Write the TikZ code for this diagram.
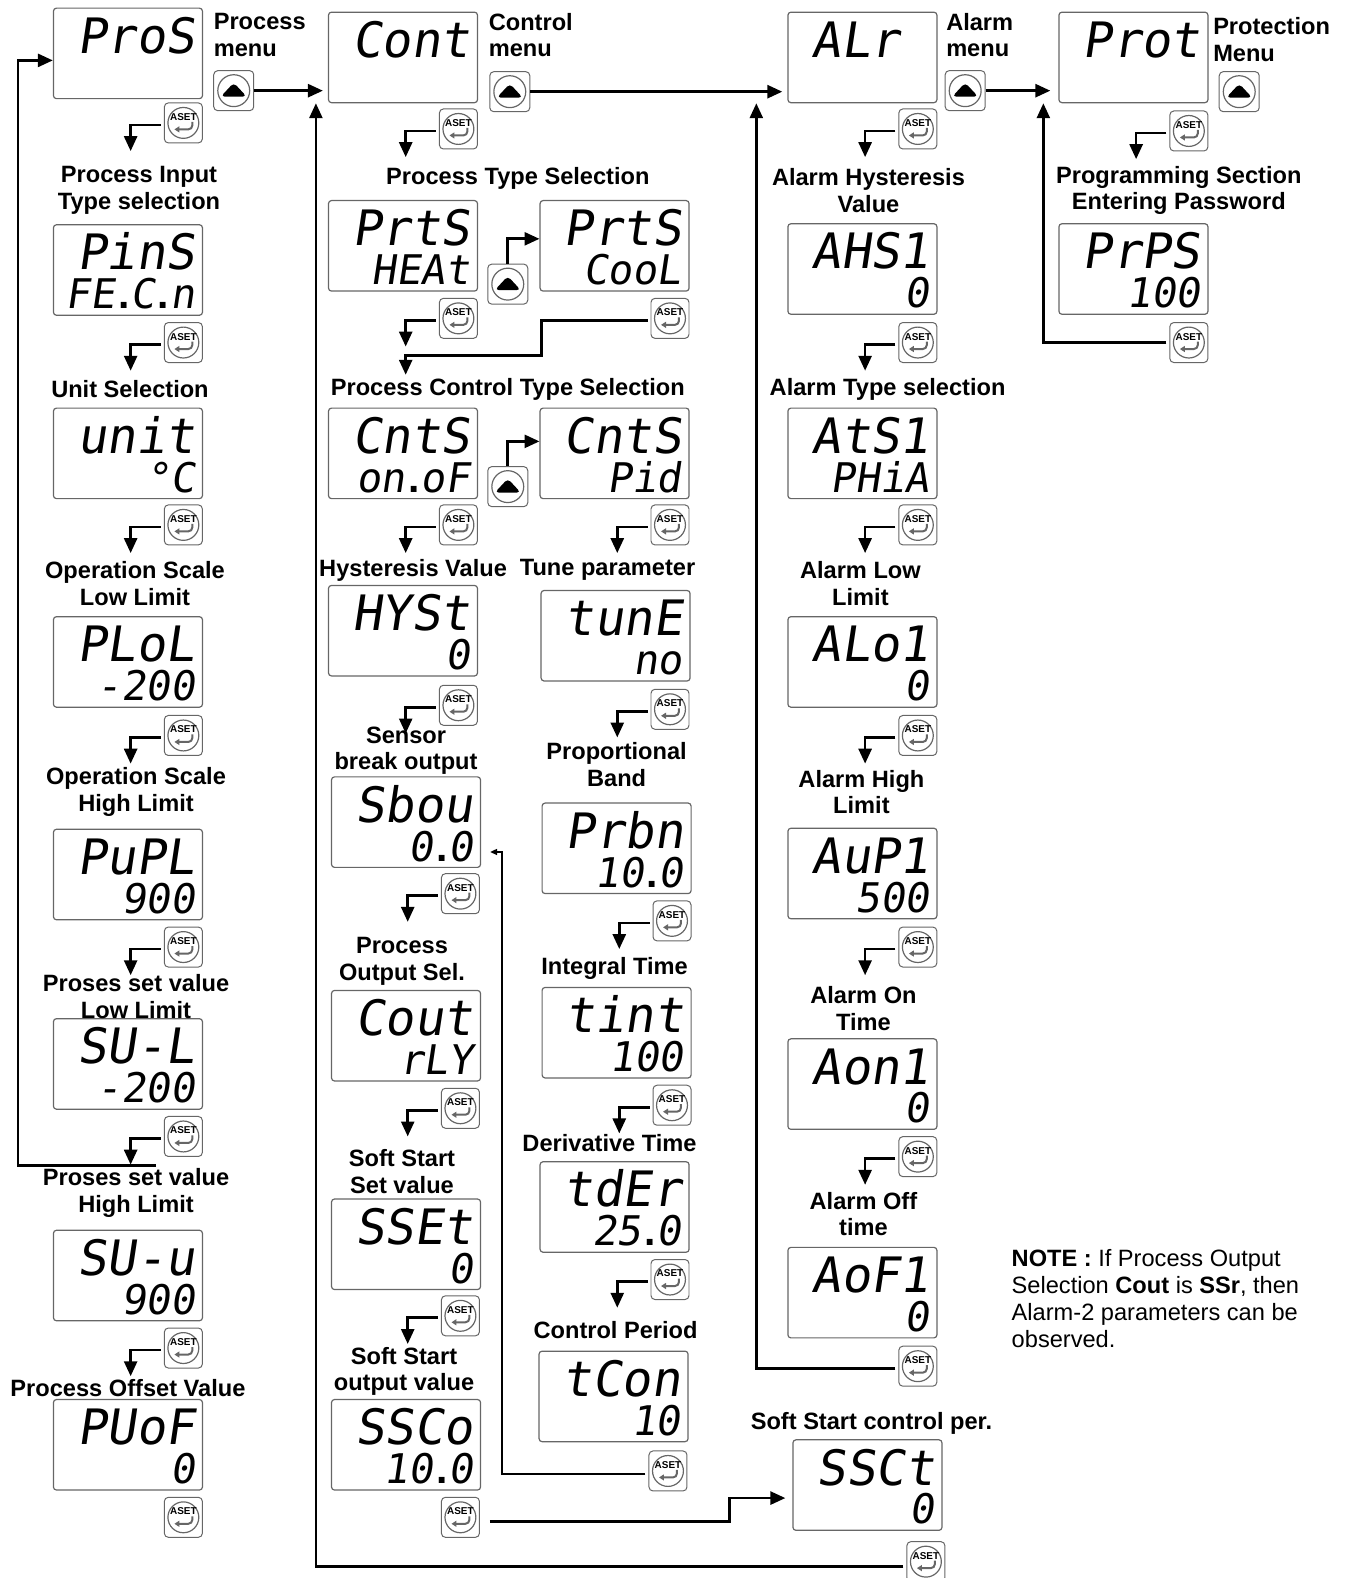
\documentclass[tikz,border=0pt]{standalone}
\usepackage{fontspec}
\setmainfont{Liberation Sans}
\newfontfamily\segfont[FakeSlant=0.15]{DejaVu Sans Mono}
\usetikzlibrary{arrows.meta,positioning}

% decimal point, narrow
\newcommand{\segpt}{{\rmfamily\bfseries\kern3pt.\kern1pt}}
% display: name, centre, upper line, lower line
\newcommand{\lcd}[4]{%
  \node [lcdbox] (#1) at (#2) {};
  \node [segtop] at ([xshift=-8pt,yshift=-46pt]#1.north east) {#3};
  \node [segbot] at ([xshift=-8pt,yshift=7pt]#1.south east) {#4};}

\begin{document}
\begin{tikzpicture}
      [x=1.0075bp, y=-1.0075bp,
       lcdbox/.style={draw=black!60, line width=1.2pt, rounded corners=3pt,
                      minimum width=149bp, minimum height=90.5bp, inner sep=0pt},
       segtop/.style={anchor=base east, inner sep=0pt, text depth=0pt,
                      font=\segfont\fontsize{49}{49}\selectfont},
       segbot/.style={anchor=base east, inner sep=0pt, text depth=0pt,
                      font=\segfont\fontsize{41}{41}\selectfont},
       asetkey/.style={draw=black!60, line width=1pt, rounded corners=4pt,
                       minimum width=38bp, minimum height=40bp, inner sep=0pt,
         path picture={
           \draw [line width=1.2pt] (path picture bounding box.center) circle (15.5pt);
           \node [font=\bfseries\fontsize{10}{10}\selectfont, inner sep=0pt]
             at ([yshift=6pt]path picture bounding box.center) {ASET};
           \draw [line width=2pt, -{Triangle[length=5pt,width=6pt]}]
             ([shift={(9pt,1pt)}]path picture bounding box.center) -- ++(0pt,-7.5pt) -- ++(-18pt,0pt);}},
       upkey/.style={draw=black!60, line width=1pt, rounded corners=4pt,
                     minimum width=40bp, minimum height=40bp, inner sep=0pt,
         path picture={
           \draw [line width=1.2pt] (path picture bounding box.center) circle (16pt);
           \fill ([shift={(-13pt,-6pt)}]path picture bounding box.center)
             -- ++(26pt,0pt) -- ++(-13pt,14pt) -- cycle;}},
       flow/.style={line width=2.7pt, -{Triangle[length=15pt,width=13pt]}},
       thinflow/.style={line width=1.5pt, -{Triangle[length=7pt,width=6pt]}},
       lbl/.style={font=\bfseries\fontsize{23.7}{26.7}\selectfont, align=center, inner sep=0pt}]
      \useasboundingbox (0,0) rectangle (1336.97,1566.25);

      % process menu
      \lcd{pros}{127,53}{ProS}{}
      \lcd{pins}{127,268}{PinS}{FE\segpt C\segpt n}
      \lcd{unit}{127,450}{unit}{°C}
      \lcd{plol}{127,657}{PLoL}{-200}
      \lcd{pupl}{127,868}{PuPL}{900}
      \lcd{sul}{127,1056}{SU-L}{-200}
      \lcd{suu}{127,1266}{SU-u}{900}
      \lcd{puof}{127,1434}{PUoF}{0}

      % control menu
      \lcd{cont}{400,57}{Cont}{}
      \lcd{prtsh}{400,244}{PrtS}{HEAt}
      \lcd{prtsc}{610,244}{PrtS}{CooL}
      \lcd{cntso}{400,450}{CntS}{on\segpt oF}
      \lcd{cntsp}{610,450}{CntS}{Pid}
      \lcd{hyst}{400,626}{HYSt}{0}
      \lcd{sbou}{403,816}{Sbou}{0\segpt 0}
      \lcd{cout}{403,1028}{Cout}{rLY}
      \lcd{sset}{403,1235}{SSEt}{0}
      \lcd{ssco}{403,1434}{SSCo}{10\segpt 0}
      \lcd{tune}{611,631}{tunE}{no}
      \lcd{prbn}{612,842}{Prbn}{10\segpt 0}
      \lcd{tint}{612,1025}{tint}{100}
      \lcd{tder}{610,1198}{tdEr}{25\segpt 0}
      \lcd{tcon}{609,1386}{tCon}{10}
      \lcd{ssct}{861,1474}{SSCt}{0}

      % alarm menu
      \lcd{alr}{856,57}{ALr\phantom{0}}{}
      \lcd{ahs}{856,267}{AHS1}{0}
      \lcd{ats}{856,450}{AtS1}{PHiA}
      \lcd{alo}{856,657}{ALo1}{0}
      \lcd{aup}{856,867}{AuP1}{500}
      \lcd{aon}{856,1076}{Aon1}{0}
      \lcd{aof}{856,1283}{AoF1}{0}

      % protection menu
      \lcd{prot}{1125,57}{Prot}{}
      \lcd{prps}{1125,267}{PrPS}{100}

      % texts
      \node [lbl, align=left, anchor=west] (tpros) at (212,35) {Process\\menu};
      \node [lbl, align=left, anchor=west] (tcont) at (485,35) {Control\\menu};
      \node [lbl, align=left, anchor=west] (talr)  at (939,35) {Alarm\\menu};
      \node [lbl, align=left, anchor=west] (tprot) at (1204,39) {Protection\\Menu};

      \node [lbl] (tpins) at (138,189) {Process Input\\Type selection};
      \node [lbl] (tunit) at (129,386) {Unit Selection};
      \node [lbl] (tplol) at (134,579) {Operation Scale\\Low Limit};
      \node [lbl] (tpupl) at (135,786) {Operation Scale\\High Limit};
      \node [lbl] (tsul)  at (135,989) {Proses set value\\Low Limit};
      \node [lbl] (tsuu)  at (135,1184) {Proses set value\\High Limit};
      \node [lbl] (tpuof) at (127,1378) {Process Offset Value};

      \node [lbl] (tprts) at (514,177) {Process Type Selection};
      \node [lbl] (tcnts) at (504,386) {Process Control Type Selection};
      \node [lbl] (thyst) at (410,566) {Hysteresis Value};
      \node [lbl] (ttune) at (603,566) {Tune parameter};
      \node [lbl] (tsbou) at (403,745) {Sensor\\break output};
      \node [lbl] (tprbn) at (612,759) {Proportional\\Band};
      \node [lbl] (tcout) at (399,954) {Process\\Output Sel.};
      \node [lbl] (ttint) at (610,961) {Integral Time};
      \node [lbl] (tsset) at (399,1163) {Soft Start\\Set value};
      \node [lbl] (ttder) at (605,1135) {Derivative Time};
      \node [lbl] (tssco) at (401,1361) {Soft Start\\output value};
      \node [lbl] (ttcon) at (611,1320) {Control Period};
      \node [lbl] (tssct) at (865,1413) {Soft Start control per.};

      \node [lbl] (tahs) at (862,189) {Alarm Hysteresis\\Value};
      \node [lbl] (tats) at (881,386) {Alarm Type selection};
      \node [lbl] (talo) at (854,579) {Alarm Low\\Limit};
      \node [lbl] (taup) at (855,786) {Alarm High\\Limit};
      \node [lbl] (taon) at (857,1001) {Alarm On\\Time};
      \node [lbl] (taof) at (857,1205) {Alarm Off\\time};
      \node [lbl] (tprps) at (1170,189) {Programming Section\\Entering Password};

      \node [anchor=north west, align=left, inner sep=0pt,
             font=\fontsize{23.7}{27.2}\selectfont] (note) at (1004,1240)
        {\textbf{NOTE :} If Process Output\\Selection \textbf{Cout} is \textbf{SSr}, then\\
         Alarm-2 parameters can be\\observed.};

      % keys
      \node [upkey] (u1) at (232,90) {};
      \node [upkey] (u2) at (506,91) {};
      \node [upkey] (u3) at (958,90) {};
      \node [upkey] (u4) at (1230,91) {};
      \node [upkey] (u5) at (504,282) {};
      \node [upkey] (u6) at (504,483) {};

      \foreach \k/\x/\y in {k1/182/122, k2/182/340, k3/182/521, k4/182/730,
                            k5/182/940, k6/182/1128, k7/182/1338, k8/182/1506,
                            m1/455/128, m2/455/316, m3/455/521, m4/455/700,
                            m5/457/887, m6/457/1100, m7/457/1306, m8/457/1506,
                            n1/665/316, n2/665/521, n3/665/704, n4/667/914,
                            n5/667/1097, n6/665/1270, n7/663/1460,
                            r1/911/128, r2/911/340, r3/911/521, r4/911/730,
                            r5/911/940, r6/911/1148, r7/911/1356, r8/919/1550,
                            p1/1180/130, p2/1180/340}
        \node [asetkey] (\k) at (\x,\y) {};

      % step down to the next parameter
      \foreach \k in {k1,k2,k3,k4,k5,k6,k7,m1,m2,m3,m4,m5,m6,m7,
                      n2,n3,n4,n5,n6,r1,r2,r3,r4,r5,r6,p1}
        \draw [flow] ([xshift=-3bp,yshift=-2bp]\k.west) -- ++(-30,0) -- ++(0,26);

      % menu to menu
      \draw [flow] (u1.east) -- ([xshift=-5bp]cont.west |- u1.east);
      \draw [flow] (u2.east) -- ([xshift=-5bp]alr.west |- u2.east);
      \draw [flow] (u3.east) -- ([xshift=-8bp]prot.west |- u3.east);

      % back to the menus
      \coordinate (back) at (155,1157);
      \draw [flow] (back) -- ++(-137,0) |- ([yshift=-7bp]pros.west);
      \draw [flow] ([xshift=-3bp,yshift=-5bp]r8.west) -| ([xshift=-12bp]cont.south west);
      \draw [flow] ([xshift=-3bp,yshift=-2bp]r7.west) -| ([xshift=-31bp]alr.south west);
      \draw [flow] ([xshift=-3bp]p2.west) -| ([xshift=-15bp]prot.south west);

      % choices
      \draw [flow] (u5.north) |- ([yshift=7bp]prtsc.west);
      \draw [flow] (u6.north) |- ([yshift=12bp]cntsp.west);
      \draw [flow] ([xshift=-3bp,yshift=-2bp]n1.west) -- ++(-105,0) -- ++(0,35) -- ++(-135,0) -- ++(0,19);
      \draw [thinflow] ([xshift=-3bp,yshift=-3bp]n7.west)
        -| ([xshift=21bp,yshift=16bp]sbou.south east) -- ([xshift=9bp,yshift=16bp]sbou.south east);
      \draw [flow] ([xshift=10bp,yshift=-4bp]m8.east) -- ++(238,0) |- ([xshift=-7bp,yshift=-13bp]ssct.west);
    \end{tikzpicture}
\end{document}
